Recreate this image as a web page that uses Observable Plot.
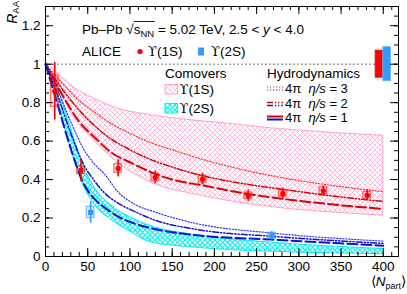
<!DOCTYPE html>
<html><head><meta charset="utf-8">
<script src="https://cdn.jsdelivr.net/npm/d3@7"></script>
<script src="https://cdn.jsdelivr.net/npm/@observablehq/plot@0.6"></script>
<style>
body{margin:0;background:#fff;}
#chart{position:relative;width:407px;height:294px;}
svg{font-family:"Liberation Sans",Arial,"DejaVu Sans",sans-serif;}
svg text{white-space:pre;}
</style></head><body><div id="chart"></div>
<script>
// ---- ALICE data: Upsilon(1S)
const ups1SNpart = [11, 42, 86, 130, 186, 240, 281, 329, 381];
const ups1SRaa   = [0.86, 0.449, 0.458, 0.411, 0.402, 0.316, 0.328, 0.342, 0.319];
const ups1SStat  = [0.15, 0.06, 0.045, 0.033, 0.03, 0.03, 0.028, 0.026, 0.028];
const ups1SSyst  = [0.082, 0.02, 0.023, 0.019, 0.018, 0.017, 0.017, 0.018, 0.017];
// ---- ALICE data: Upsilon(2S)
const ups2SNpart = [53.5, 268];
const ups2SRaa   = [0.229, 0.108];
const ups2SStat  = [0.056, 0.022];
const ups2SSyst  = [0.029, 0.015];
// ---- global uncertainties (at RAA = 1)
const globalState = ["1S", "2S"];
const globalUnc   = [0.07, 0.088];
const globalNlo   = [391, 400];
const globalNhi   = [400, 409];
// ---- Comovers bands
const comov1SNpart = [2, 15, 30, 58, 85, 125, 180, 222, 266, 300, 350, 400];
const comov1SHigh  = [1.0, 0.95, 0.89, 0.82, 0.77, 0.735, 0.705, 0.688, 0.667, 0.655, 0.64, 0.628];
const comov1SLow   = [0.99, 0.88, 0.75, 0.60, 0.49, 0.385, 0.32, 0.285, 0.258, 0.242, 0.226, 0.212];
const comov2SNpart = [2, 15, 25, 35, 45, 58, 78, 100, 124, 180, 268, 400];
const comov2SHigh  = [1.0, 0.87, 0.74, 0.60, 0.47, 0.36, 0.265, 0.205, 0.16, 0.11, 0.072, 0.039];
const comov2SLow   = [0.99, 0.80, 0.64, 0.49, 0.37, 0.27, 0.19, 0.13, 0.075, 0.045, 0.025, 0.012];
// ---- Hydrodynamics curves, 4pi eta/s = 3, 2, 1
const hydro1SNpart = [0, 20, 40, 58, 78, 100, 124, 150, 186, 240, 280, 330, 400];
const hydro1SEta3  = [1.0, 0.90, 0.81, 0.75, 0.69, 0.64, 0.593, 0.555, 0.505, 0.445, 0.41, 0.375, 0.337];
const hydro1SEta2  = [1.0, 0.87, 0.76, 0.68, 0.61, 0.555, 0.505, 0.465, 0.42, 0.375, 0.35, 0.32, 0.286];
const hydro1SEta1  = [1.0, 0.84, 0.70, 0.62, 0.54, 0.49, 0.44, 0.40, 0.37, 0.325, 0.30, 0.275, 0.247];
const hydro2SNpart = [0, 15, 30, 45, 58, 70, 85, 105, 129, 180, 268, 400];
const hydro2SEta3  = [1.0, 0.86, 0.70, 0.56, 0.48, 0.428, 0.34, 0.273, 0.232, 0.17, 0.122, 0.08];
const hydro2SEta2  = [1.0, 0.83, 0.64, 0.48, 0.393, 0.33, 0.28, 0.235, 0.19, 0.14, 0.105, 0.068];
const hydro2SEta1  = [1.0, 0.78, 0.56, 0.38, 0.30, 0.255, 0.21, 0.172, 0.143, 0.11, 0.088, 0.056];
// ---- axis ticks
const xMajor = [0, 50, 100, 150, 200, 250, 300, 350, 400];
const xMinor = d3.range(0, 411, 10);
const yMajor = [0, 0.2, 0.4, 0.6, 0.8, 1.0, 1.2];
const yMinor = d3.range(0, 1.301, 0.05);

const W = 407, H = 294, mL = 45, mR = 9, mT = 6, mB = 38;
const plotW = W - mL - mR, plotH = H - mT - mB;

const red = "#ff0000", blue = "#3399ff", hRed = "#dd0000", hBlue = "#1010d0";
const pink = "#ff9fcf", cyan = "#00f0f0";

const pts1S = ups1SNpart.map((n, i) => ({n, r: ups1SRaa[i], st: ups1SStat[i], sy: ups1SSyst[i]}));
const pts2S = ups2SNpart.map((n, i) => ({n, r: ups2SRaa[i], st: ups2SStat[i], sy: ups2SSyst[i]}));
const glob = globalState.map((s, i) => ({s, u: globalUnc[i], lo: globalNlo[i], hi: globalNhi[i]}));
const band1S = comov1SNpart.map((n, i) => ({n, lo: comov1SLow[i], hi: comov1SHigh[i]}));
const band2S = comov2SNpart.map((n, i) => ({n, lo: comov2SLow[i], hi: comov2SHigh[i]}));
const mk = (xs, ys) => xs.map((n, i) => ({n, r: ys[i]}));
const boxHalf = 4.5;

const lineStyles = {
  3: {strokeWidth: 1.2, strokeDasharray: "1.2,1.8"},
  2: {strokeWidth: 1.5, strokeDasharray: "6,2,1.2,2,1.2,2"},
  1: {strokeWidth: 2, strokeDasharray: "10,4"}
};

const plot = Plot.plot({
  width: W, height: H,
  marginLeft: mL, marginRight: mR, marginTop: mT, marginBottom: mB,
  x: {domain: [0, 418]},
  y: {domain: [0, 1.3]},
  style: {fontFamily: '"Liberation Sans", Arial, sans-serif', fontSize: "13.5px", color: "#000", background: "#fff", overflow: "visible"},
  marks: [
    // comovers bands
    Plot.areaY(band1S, {x: "n", y1: "lo", y2: "hi", fill: "url(#hatchPink)", stroke: pink, strokeWidth: 1, curve: "monotone-x"}),
    Plot.areaY(band2S, {x: "n", y1: "lo", y2: "hi", fill: "url(#hatchCyan)", stroke: cyan, strokeWidth: 1, curve: "monotone-x"}),
    // hydro curves
    Plot.line(mk(hydro1SNpart, hydro1SEta3), {x: "n", y: "r", stroke: "#ff3030", curve: "monotone-x", ...lineStyles[3]}),
    Plot.line(mk(hydro1SNpart, hydro1SEta2), {x: "n", y: "r", stroke: hRed, curve: "monotone-x", ...lineStyles[2]}),
    Plot.line(mk(hydro1SNpart, hydro1SEta1), {x: "n", y: "r", stroke: hRed, curve: "monotone-x", ...lineStyles[1]}),
    Plot.line(mk(hydro2SNpart, hydro2SEta3), {x: "n", y: "r", stroke: "#3030ff", curve: "monotone-x", ...lineStyles[3]}),
    Plot.line(mk(hydro2SNpart, hydro2SEta2), {x: "n", y: "r", stroke: hBlue, curve: "monotone-x", ...lineStyles[2]}),
    Plot.line(mk(hydro2SNpart, hydro2SEta1), {x: "n", y: "r", stroke: hBlue, curve: "monotone-x", ...lineStyles[1]}),
    // unity line
    Plot.ruleY([1], {stroke: "#777", strokeDasharray: "2,2", strokeWidth: 1}),
    // global uncertainties
    Plot.rectY(glob, {x1: "lo", x2: "hi", y1: d => 1 - d.u, y2: d => 1 + d.u, fill: d => d.s === "1S" ? red : blue, stroke: d => d.s === "1S" ? red : "#66b3ff", strokeWidth: 1}),
    // systematic boxes
    Plot.rect(pts1S, {x1: d => d.n - boxHalf, x2: d => d.n + boxHalf, y1: d => d.r - d.sy, y2: d => d.r + d.sy, fill: red, fillOpacity: 0.12, stroke: red, strokeOpacity: 0.55, strokeWidth: 1.3}),
    Plot.rect(pts2S, {x1: d => d.n - boxHalf, x2: d => d.n + boxHalf, y1: d => d.r - d.sy, y2: d => d.r + d.sy, fill: blue, fillOpacity: 0.12, stroke: blue, strokeOpacity: 0.6, strokeWidth: 1.3}),
    // stat errors
    Plot.ruleX(pts1S, {x: "n", y1: d => d.r - d.st, y2: d => d.r + d.st, stroke: red, strokeWidth: 1.6}),
    Plot.ruleX(pts2S, {x: "n", y1: d => d.r - d.st, y2: d => d.r + d.st, stroke: blue, strokeWidth: 1.6}),
    // points
    Plot.dot(pts1S, {x: "n", y: "r", r: 2.6, fill: red, stroke: "none"}),
    Plot.dot(pts2S, {x: "n", y: "r", symbol: "square", r: 3, fill: blue, stroke: "none"}),
    // frame and ticks (ROOT style, inward on all sides)
    Plot.frame({stroke: "#000", strokeWidth: 1}),
    Plot.tickX(xMajor, {x: d => d, insetTop: plotH - 8, stroke: "#000"}),
    Plot.tickX(xMinor, {x: d => d, insetTop: plotH - 4, stroke: "#000"}),
    Plot.tickX(xMajor, {x: d => d, insetBottom: plotH - 8, stroke: "#000"}),
    Plot.tickX(xMinor, {x: d => d, insetBottom: plotH - 4, stroke: "#000"}),
    Plot.tickY(yMajor, {y: d => d, insetRight: plotW - 8, stroke: "#000"}),
    Plot.tickY(yMinor, {y: d => d, insetRight: plotW - 4, stroke: "#000"}),
    Plot.tickY(yMajor, {y: d => d, insetLeft: plotW - 8, stroke: "#000"}),
    Plot.tickY(yMinor, {y: d => d, insetLeft: plotW - 4, stroke: "#000"}),
    Plot.axisX({ticks: xMajor, tickSize: 0, tickPadding: 5, tickFormat: d => String(d), label: null, fontSize: 13.5}),
    Plot.axisY({ticks: yMajor, tickSize: 0, tickPadding: 5, tickFormat: d => String(+d.toFixed(1)), label: null, fontSize: 13.5})
  ]
});

document.getElementById("chart").appendChild(plot);
const svg = d3.select(plot);

// hatch patterns
const defs = svg.insert("defs", ":first-child");
const pP = defs.append("pattern").attr("id", "hatchPink").attr("patternUnits", "userSpaceOnUse").attr("width", 5).attr("height", 5);
pP.append("path").attr("d", "M-1,-1L6,6M6,-1L-1,6").attr("stroke", pink).attr("stroke-width", 0.7).attr("fill", "none");
const pC = defs.append("pattern").attr("id", "hatchCyan").attr("patternUnits", "userSpaceOnUse").attr("width", 5).attr("height", 5);
pC.append("path").attr("d", "M-1,-1L6,6M6,-1L-1,6").attr("stroke", cyan).attr("stroke-width", 1.1).attr("fill", "none");

const g = svg.append("g").attr("fill", "#000").attr("text-anchor", "start");
function seq(x, y, parts, baseSize = 13.5) {
  let cx = x; const pos = [];
  for (const p of parts) {
    const el = g.append("text").attr("x", cx).attr("y", y + (p.dy || 0))
      .attr("text-anchor", "start").attr("font-size", p.size || baseSize).text(p.t);
    if (p.italic) el.attr("font-style", "italic");
    if (p.font) el.attr("font-family", p.font);
    const w = el.node().getComputedTextLength();
    pos.push([cx, cx + w]);
    cx += w;
  }
  return pos;
}
const UPS = "ϒ";
const upsFont = '"DejaVu Serif", serif';
const ups = (s, size) => [{t: UPS, font: upsFont, size}, {t: "(" + s + ")"}];

// title line
const tp = seq(82, 33.5, [
  {t: "Pb–Pb "}, {t: "√"}, {t: "s"}, {t: "NN", size: 9.5, dy: 3}, {t: " = 5.02 TeV, 2.5 < "}, {t: "y", italic: true}, {t: " < 4.0"}
]);
g.append("line").attr("x1", tp[2][0]).attr("x2", tp[3][1] + 0.5).attr("y1", 21.5).attr("y2", 21.5).attr("stroke", "#000").attr("stroke-width", 0.9);

// ALICE line
seq(82, 56, [{t: "ALICE"}]);
g.append("circle").attr("cx", 140).attr("cy", 51.5).attr("r", 2.6).attr("fill", red);
seq(148, 56, ups("1S", 13));
g.append("rect").attr("x", 198).attr("y", 47.5).attr("width", 6).attr("height", 8).attr("fill", blue);
seq(211, 56, ups("2S", 13));

// Comovers legend
seq(165, 78, [{t: "Comovers"}]);
g.append("rect").attr("x", 165).attr("y", 84.5).attr("width", 12.5).attr("height", 9.5).attr("fill", "url(#hatchPink)").attr("stroke", pink);
seq(179.5, 94, ups("1S", 13));
g.append("rect").attr("x", 165).attr("y", 103.5).attr("width", 12.5).attr("height", 9.5).attr("fill", "url(#hatchCyan)").attr("stroke", cyan);
seq(179.5, 113, ups("2S", 13));

// Hydrodynamics legend
seq(267, 77.5, [{t: "Hydrodynamics"}]);
const rows = [{v: "3", y: 92.5, s: lineStyles[3], rc: "#ff3030", bc: "#3030ff"},
              {v: "2", y: 108, s: lineStyles[2], rc: hRed, bc: hBlue},
              {v: "1", y: 122, s: {strokeWidth: 2, strokeDasharray: null}, rc: hRed, bc: hBlue}];
for (const r of rows) {
  g.append("line").attr("x1", 267).attr("x2", 283).attr("y1", r.y - 5.5).attr("y2", r.y - 5.5)
    .attr("stroke", r.rc).attr("stroke-width", r.s.strokeWidth).attr("stroke-dasharray", r.s.strokeDasharray);
  g.append("line").attr("x1", 267).attr("x2", 283).attr("y1", r.y - 2.5).attr("y2", r.y - 2.5)
    .attr("stroke", r.bc).attr("stroke-width", r.s.strokeWidth).attr("stroke-dasharray", r.s.strokeDasharray);
  seq(285, r.y, [{t: "4π  "}, {t: "η/s", italic: true}, {t: " = " + r.v}], 13);
}

// axis titles
const yl = g.append("text").attr("transform", "translate(16.5,1) rotate(-90)").attr("text-anchor", "end").attr("font-size", 14);
yl.append("tspan").attr("font-style", "italic").text("R");
yl.append("tspan").attr("font-size", 9.5).attr("dy", 2.5).text("AA");

const xl = g.append("text").attr("x", 406).attr("y", 286).attr("text-anchor", "end").attr("font-size", 13.5);
xl.append("tspan").text("⟨");
xl.append("tspan").attr("font-style", "italic").text("N");
xl.append("tspan").attr("font-size", 9).attr("dy", 3).text("part");
xl.append("tspan").attr("dy", -3).text("⟩");
</script></body></html>
